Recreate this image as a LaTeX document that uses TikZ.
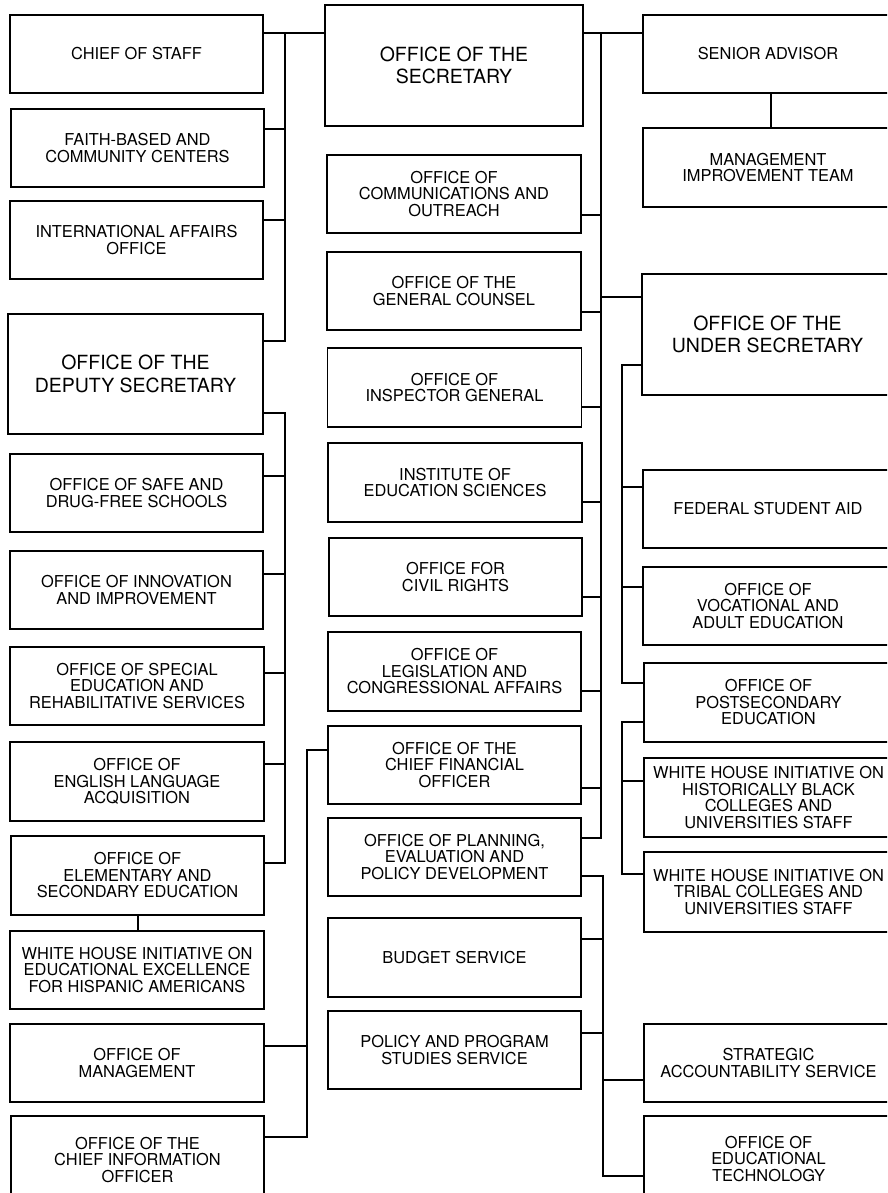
\documentclass[tikz,border=0pt]{standalone}
\usepackage{fontspec}
\setmainfont{TeX Gyre Heros}
\tikzset{
  sbox/.style={draw, line width=1.9pt, inner sep=0pt, align=center,
    font=\fontsize{16.4}{16.5}\selectfont, minimum width=254pt, minimum height=78pt},
  bbox/.style={sbox, font=\fontsize{19.5}{22.5}\selectfont},
  rbox/.style={sbox, minimum width=250pt},
  conn/.style={line width=1.9pt, line cap=rect}
}
\begin{document}
\begin{tikzpicture}[x=1pt,y=-1pt]
\useasboundingbox (0,0) rectangle (887,1193);
\clip (0,0) rectangle (887,1193);
\fill[white] (0,0) rectangle (887,1193);
% left column
\node[sbox, minimum width=253pt] (cos) at (136.5,54) {CHIEF OF STAFF};
\node[sbox, minimum width=253pt] (faith) at (137.5,148) {FAITH-BASED AND\\COMMUNITY CENTERS};
\node[sbox, minimum width=253pt] (intl) at (136.5,240) {INTERNATIONAL AFFAIRS\\OFFICE};
\node[bbox, minimum width=255pt, minimum height=120pt] (dep) at (135.5,374) {OFFICE OF THE\\DEPUTY SECRETARY};
\node[sbox, minimum width=253pt] (safe) at (136.5,493) {OFFICE OF SAFE AND\\DRUG-FREE SCHOOLS};
\node[sbox, minimum width=253pt] (innov) at (136.5,590) {OFFICE OF INNOVATION\\AND IMPROVEMENT};
\node[sbox] (sped) at (137,686) {OFFICE OF SPECIAL\\EDUCATION AND\\REHABILITATIVE SERVICES};
\node[sbox, minimum height=79pt] (ela) at (137,781.5) {OFFICE OF\\ENGLISH LANGUAGE\\ACQUISITION};
\node[sbox, minimum width=253pt, minimum height=79pt] (ese) at (137.5,875.5) {OFFICE OF\\ELEMENTARY AND\\SECONDARY EDUCATION};
\node[sbox] (hisp) at (137,970) {WHITE HOUSE INITIATIVE ON\\EDUCATIONAL EXCELLENCE\\FOR HISPANIC AMERICANS};
\node[sbox] (mgmt) at (137,1063) {OFFICE OF\\MANAGEMENT};
\node[sbox, minimum width=253pt, minimum height=88pt] (cio) at (137.5,1160) {OFFICE OF THE\\CHIEF INFORMATION\\OFFICER};
% middle column
\node[bbox, minimum width=258pt, minimum height=121pt] (sec) at (454,65.5) {OFFICE OF THE\\SECRETARY};
\node[sbox] (comm) at (454,194) {OFFICE OF\\COMMUNICATIONS AND\\OUTREACH};
\node[sbox] (gc) at (454,291) {OFFICE OF THE\\GENERAL COUNSEL};
\node[sbox, minimum height=79pt] (ig) at (454.5,387.5) {OFFICE OF\\INSPECTOR GENERAL};
\node[sbox, minimum height=79pt] (ies) at (455,482.5) {INSTITUTE OF\\EDUCATION SCIENCES};
\node[sbox, minimum width=253pt] (ocr) at (455.5,577) {OFFICE FOR\\CIVIL RIGHTS};
\node[sbox, minimum width=253pt, minimum height=79pt] (leg) at (454.5,671.5) {OFFICE OF\\LEGISLATION AND\\CONGRESSIONAL AFFAIRS};
\node[sbox, minimum width=253pt] (cfo) at (454.5,765) {OFFICE OF THE\\CHIEF FINANCIAL\\OFFICER};
\node[sbox, minimum width=253pt] (plan) at (454.5,857) {OFFICE OF PLANNING,\\EVALUATION AND\\POLICY DEVELOPMENT};
\node[sbox, minimum width=253pt, minimum height=79pt] (bud) at (454.5,957.5) {BUDGET SERVICE};
\node[sbox, minimum width=253pt] (pps) at (454.5,1050) {POLICY AND PROGRAM\\STUDIES SERVICE};
% right column
\node[rbox] (sa) at (768,54) {SENIOR ADVISOR};
\node[rbox, minimum height=79pt] (mit) at (768,167.5) {MANAGEMENT\\IMPROVEMENT TEAM};
\node[rbox, font=\fontsize{19.5}{22.5}\selectfont, minimum width=251pt, minimum height=121pt] (us) at (767.5,334.5) {OFFICE OF THE\\UNDER SECRETARY};
\node[rbox] (fsa) at (768,509) {FEDERAL STUDENT AID};
\node[rbox] (ovae) at (768,606) {OFFICE OF\\VOCATIONAL AND\\ADULT EDUCATION};
\node[rbox, minimum width=249pt, minimum height=79pt] (ope) at (768.5,702.5) {OFFICE OF\\POSTSECONDARY\\EDUCATION};
\node[rbox, minimum width=249pt, minimum height=79pt] (hbcu) at (768.5,797.5) {WHITE HOUSE INITIATIVE ON\\HISTORICALLY BLACK\\COLLEGES AND\\UNIVERSITIES STAFF};
\node[rbox, minimum width=249pt, minimum height=80pt] (tcu) at (768.5,892) {WHITE HOUSE INITIATIVE ON\\TRIBAL COLLEGES AND\\UNIVERSITIES STAFF};
\node[rbox, minimum width=249pt] (sas) at (768.5,1063) {STRATEGIC\\ACCOUNTABILITY SERVICE};
\node[rbox, minimum width=249pt, minimum height=86pt] (oet) at (768.5,1159) {OFFICE OF\\EDUCATIONAL\\TECHNOLOGY};
% bus coordinates
\coordinate (busA) at (285,0);
\coordinate (busC) at (307,0);
\coordinate (busD) at (601,0);
\coordinate (busE) at (622,0);
\coordinate (busG) at (603,0);
% bus A: secretary to left staff offices
\draw[conn] (busA |- 0,33) -- (busA |- 0,341);
\draw[conn] (sec.west |- 0,33) -- (cos.east |- 0,33);
\draw[conn] (faith.east |- 0,129) -- (busA |- 0,129);
\draw[conn] (intl.east |- 0,220) -- (busA |- 0,220);
\draw[conn] (dep.east |- 0,341) -- (busA |- 0,341);
% bus B: deputy secretary
\draw[conn] (busA |- 0,413) -- (busA |- 0,863);
\draw[conn] (dep.east |- 0,413) -- (busA |- 0,413);
\draw[conn] (safe.east |- 0,476) -- (busA |- 0,476);
\draw[conn] (innov.east |- 0,574) -- (busA |- 0,574);
\draw[conn] (sped.east |- 0,673) -- (busA |- 0,673);
\draw[conn] (ela.east |- 0,764) -- (busA |- 0,764);
\draw[conn] (ese.east |- 0,863) -- (busA |- 0,863);
\draw[conn] (ese.south -| 138,0) -- (hisp.north -| 138,0);
% bus C: chief financial officer
\draw[conn] (busC |- 0,750) -- (busC |- 0,1137);
\draw[conn] (cfo.west |- 0,750) -- (busC |- 0,750);
\draw[conn] (mgmt.east |- 0,1046) -- (busC |- 0,1046);
\draw[conn] (cio.east |- 0,1137) -- (busC |- 0,1137);
% bus D: secretary to right
\draw[conn] (busD |- 0,33) -- (busD |- 0,838);
\draw[conn] (sec.east |- 0,33) -- (sa.west |- 0,33);
\draw[conn] (sa.south -| 771,0) -- (mit.north -| 771,0);
\draw[conn] (busD |- 0,297) -- (us.west |- 0,297);
\draw[conn] (comm.east |- 0,215) -- (busD |- 0,215);
\draw[conn] (gc.east |- 0,312) -- (busD |- 0,312);
\draw[conn] (ig.east |- 0,407) -- (busD |- 0,407);
\draw[conn] (ies.east |- 0,502) -- (busD |- 0,502);
\draw[conn] (ocr.east |- 0,597) -- (busD |- 0,597);
\draw[conn] (leg.east |- 0,691) -- (busD |- 0,691);
\draw[conn] (cfo.east |- 0,788) -- (busD |- 0,788);
\draw[conn] (plan.east |- 0,838) -- (busD |- 0,838);
% bus E: under secretary
\draw[conn] (busE |- 0,365) -- (busE |- 0,683);
\draw[conn] (us.west |- 0,365) -- (busE |- 0,365);
\draw[conn] (fsa.west |- 0,487) -- (busE |- 0,487);
\draw[conn] (ovae.west |- 0,587) -- (busE |- 0,587);
\draw[conn] (ope.west |- 0,683) -- (busE |- 0,683);
% bus F: postsecondary education
\draw[conn] (busE |- 0,722) -- (busE |- 0,874);
\draw[conn] (ope.west |- 0,722) -- (busE |- 0,722);
\draw[conn] (hbcu.west |- 0,781) -- (busE |- 0,781);
\draw[conn] (tcu.west |- 0,874) -- (busE |- 0,874);
% bus G: planning, evaluation and policy development
\draw[conn] (busG |- 0,876) -- (busG |- 0,1176);
\draw[conn] (plan.east |- 0,876) -- (busG |- 0,876);
\draw[conn] (bud.east |- 0,939) -- (busG |- 0,939);
\draw[conn] (pps.east |- 0,1033) -- (busG |- 0,1033);
\draw[conn] (sas.west |- 0,1080) -- (busG |- 0,1080);
\draw[conn] (oet.west |- 0,1176) -- (busG |- 0,1176);
\end{tikzpicture}
\end{document}
